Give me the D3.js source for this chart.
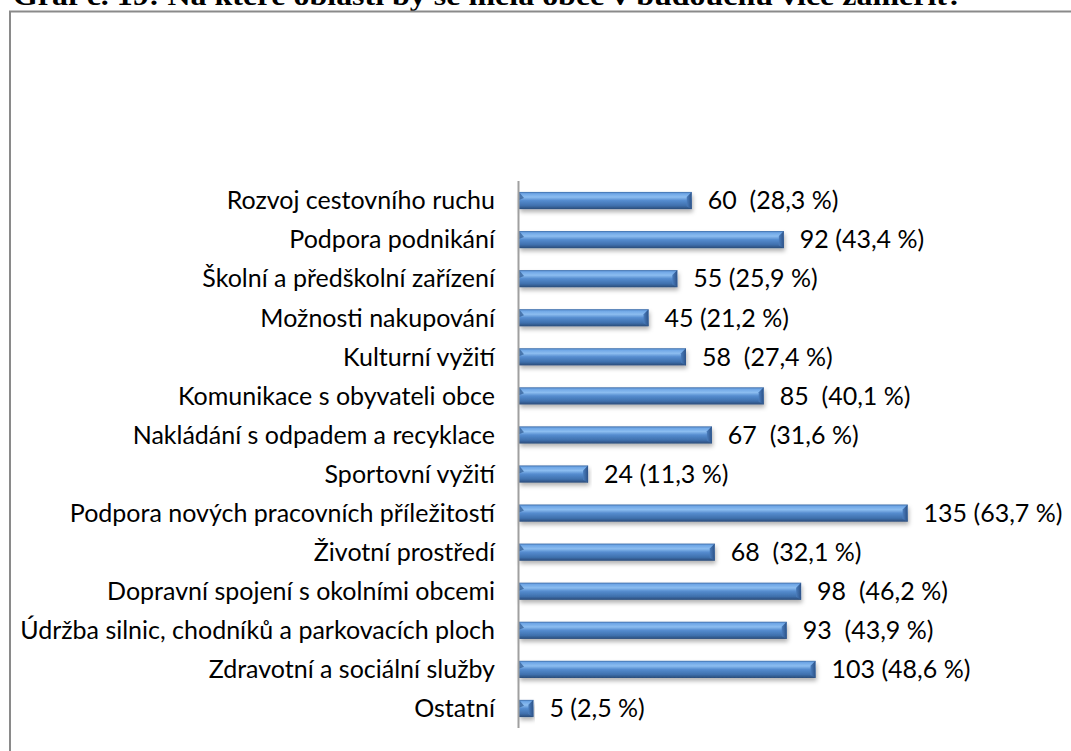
<!DOCTYPE html>
<html>
<head>
<meta charset="utf-8">
<script src="https://cdn.jsdelivr.net/npm/d3@7"></script>
<style>
  body { margin: 0; background: #fff; }
  svg text { white-space: pre; }
</style>
</head>
<body>
<div id="container"></div>
<script>
// data
const categories = [
  "Rozvoj cestovního ruchu",
  "Podpora podnikání",
  "Školní a předškolní zařízení",
  "Možnosti nakupování",
  "Kulturní vyžití",
  "Komunikace s obyvateli obce",
  "Nakládání s odpadem a recyklace",
  "Sportovní vyžití",
  "Podpora nových pracovních příležitostí",
  "Životní prostředí",
  "Dopravní spojení s okolními obcemi",
  "Údržba silnic, chodníků a parkovacích ploch",
  "Zdravotní a sociální služby",
  "Ostatní"
];
const values = [60, 92, 55, 45, 58, 85, 67, 24, 135, 68, 98, 93, 103, 5];
const valueLabels = [
  "60  (28,3 %)", "92 (43,4 %)", "55 (25,9 %)", "45 (21,2 %)", "58  (27,4 %)",
  "85  (40,1 %)", "67  (31,6 %)", "24 (11,3 %)", "135 (63,7 %)", "68  (32,1 %)",
  "98  (46,2 %)", "93  (43,9 %)", "103 (48,6 %)", "5 (2,5 %)"
];
const title = "Graf č. 19: Na které oblasti by se měla obec v budoucnu více zaměřit?";

const w = 1071;
const h = 751;

const svg = d3.select("#container")
  .append("svg")
  .attr("width", w)
  .attr("height", h);

const defs = svg.append("defs");
const grad = defs.append("linearGradient")
  .attr("id", "barGrad")
  .attr("x1", 0).attr("y1", 0).attr("x2", 0).attr("y2", 1);
grad.append("stop").attr("offset", "0%").attr("stop-color", "#3b6aa6");
grad.append("stop").attr("offset", "10%").attr("stop-color", "#6ea6e6");
grad.append("stop").attr("offset", "30%").attr("stop-color", "#8cbdf0");
grad.append("stop").attr("offset", "50%").attr("stop-color", "#558ccf");
grad.append("stop").attr("offset", "80%").attr("stop-color", "#3f70ad");
grad.append("stop").attr("offset", "100%").attr("stop-color", "#2a4b78");

const endGrad = defs.append("linearGradient")
  .attr("id", "endGrad")
  .attr("x1", 0).attr("y1", 0).attr("x2", 1).attr("y2", 0);
endGrad.append("stop").attr("offset", "0%").attr("stop-color", "#4a7dbd");
endGrad.append("stop").attr("offset", "100%").attr("stop-color", "#2c5288");

const shadow = defs.append("filter")
  .attr("id", "shadow")
  .attr("x", "-5%").attr("y", "-30%").attr("width", "110%").attr("height", "180%");
shadow.append("feDropShadow")
  .attr("dx", 1).attr("dy", 3)
  .attr("stdDeviation", 2)
  .attr("flood-color", "#000")
  .attr("flood-opacity", 0.3);

// title, cut off by the top of the page
svg.append("text")
  .attr("x", 13)
  .attr("y", 5)
  .attr("font-family", "Liberation Serif")
  .attr("font-weight", "bold")
  .attr("font-size", 27)
  .attr("textLength", 950)
  .attr("lengthAdjust", "spacingAndGlyphs")
  .text(title);

// frame
svg.append("rect")
  .attr("x", 10)
  .attr("y", 11.5)
  .attr("width", w + 20)
  .attr("height", h + 20)
  .attr("fill", "none")
  .attr("stroke", "#8a8a8a")
  .attr("stroke-width", 2);

const xScale = d3.scaleLinear()
  .domain([0, 140])
  .range([519, 922]);

const yScale = d3.scaleBand()
  .domain(categories)
  .range([181, 728])
  .paddingInner(0.56)
  .paddingOuter(0.28);

const bars = svg.append("g")
  .selectAll("g")
  .data(values)
  .enter()
  .append("g")
  .attr("filter", "url(#shadow)");

bars.append("rect")
  .attr("x", xScale(0))
  .attr("y", (d, i) => yScale(categories[i]))
  .attr("width", d => xScale(d) - xScale(0))
  .attr("height", yScale.bandwidth())
  .attr("fill", "url(#barGrad)");

// bevelled right end
bars.append("path")
  .attr("d", (d, i) => {
    const x1 = xScale(d), y0 = yScale(categories[i]), bh = yScale.bandwidth();
    const b = Math.min(5, (x1 - xScale(0)) / 2);
    return `M${x1 - b},${y0 + b}L${x1},${y0}L${x1},${y0 + bh}L${x1 - b},${y0 + bh - 3}Z`;
  })
  .attr("fill", "url(#endGrad)");

// bevelled left end
bars.append("path")
  .attr("d", (d, i) => {
    const x0 = xScale(0), y0 = yScale(categories[i]);
    return `M${x0},${y0}L${x0 + 5},${y0 + 6}L${x0},${y0 + 8}Z`;
  })
  .attr("fill", "#2f5a92")
  .attr("opacity", 0.7);

// axis line
svg.append("line")
  .attr("x1", xScale(0) - 0.5).attr("x2", xScale(0) - 0.5)
  .attr("y1", 181).attr("y2", 728)
  .attr("stroke", "#a0a0a0")
  .attr("stroke-width", 2);

// category labels
svg.append("g")
  .selectAll("text")
  .data(categories)
  .enter()
  .append("text")
  .attr("x", 495)
  .attr("y", d => yScale(d) + yScale.bandwidth() / 2)
  .attr("dy", "0.35em")
  .attr("text-anchor", "end")
  .attr("font-family", "Lato")
  .attr("font-size", 25)
  .attr("fill", "#000")
  .text(d => d);

// value labels
svg.append("g")
  .selectAll("text")
  .data(values)
  .enter()
  .append("text")
  .attr("x", d => xScale(d) + 16)
  .attr("y", (d, i) => yScale(categories[i]) + yScale.bandwidth() / 2)
  .attr("dy", "0.35em")
  .attr("font-family", "Lato")
  .attr("font-size", 25)
  .attr("fill", "#000")
  .text((d, i) => valueLabels[i]);
</script>
</body>
</html>
